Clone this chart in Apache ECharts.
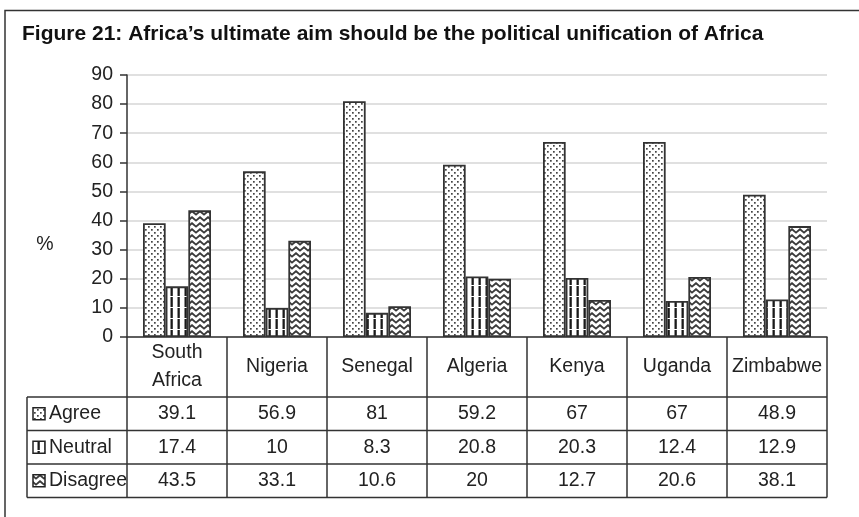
<!DOCTYPE html>
<html>
<head>
<meta charset="utf-8">
<script src="https://cdn.jsdelivr.net/npm/echarts@6/dist/echarts.min.js"></script>
<style>
  html, body { margin: 0; padding: 0; background: #fff; }
  #chart { width: 859px; height: 517px; }
</style>
</head>
<body>
<div id="chart"></div>
<script>
// Survey responses by country (%)
const categories = ['South\nAfrica', 'Nigeria', 'Senegal', 'Algeria', 'Kenya', 'Uganda', 'Zimbabwe'];
const seriesNames = ['Agree', 'Neutral', 'Disagree'];
const agree = [39.1, 56.9, 81, 59.2, 67, 67, 48.9];
const neutral = [17.4, 10, 8.3, 20.8, 20.3, 12.4, 12.9];
const disagree = [43.5, 33.1, 10.6, 20, 12.7, 20.6, 38.1];
const yMin = 0, yMax = 90, yStep = 10;

const titleText = 'Figure 21: Africa\u2019s ultimate aim should be the political unification of Africa';
const TEXT = '#222';
const LINE = '#333';
const FONT = 'Liberation Sans, Arial, sans-serif';
const FS = 19.5;

// --- fill patterns -------------------------------------------------------
function makeTile(w, h, draw) {
  const c = document.createElement('canvas');
  c.width = w; c.height = h;
  const ctx = c.getContext('2d');
  ctx.fillStyle = '#fff';
  ctx.fillRect(0, 0, w, h);
  draw(ctx);
  return { image: c, repeat: 'repeat' };
}
const dotFill = makeTile(6, 6, ctx => {
  ctx.fillStyle = '#444';
  ctx.fillRect(1, 1, 1.7, 1.7);
  ctx.fillRect(4, 4, 1.7, 1.7);
});
const stripeFill = makeTile(7, 11, ctx => {
  ctx.fillStyle = '#1a1a1a';
  ctx.fillRect(2.5, 0, 2.3, 10);
});
const chevronFill = makeTile(8, 6, ctx => {
  ctx.strokeStyle = '#3a3a3a';
  ctx.lineWidth = 1.8;
  ctx.beginPath();
  ctx.moveTo(-0.5, 0.8);
  ctx.lineTo(4, 4.6);
  ctx.lineTo(8.5, 0.8);
  ctx.stroke();
});
const fills = [dotFill, stripeFill, chevronFill];
const seriesData = [agree, neutral, disagree];

const chart = echarts.init(document.getElementById('chart'), null, { renderer: 'canvas' });

const option = {
  animation: false,
  backgroundColor: '#fff',
  grid: { left: 127, right: 32, top: 75, bottom: 180 },
  xAxis: {
    type: 'category',
    data: categories,
    axisLine: { lineStyle: { color: LINE, width: 1.5 } },
    axisTick: { show: true, length: 60, interval: 0, lineStyle: { color: LINE, width: 1.5 } },
    axisLabel: {
      interval: 0, margin: 30, verticalAlign: 'middle',
      color: TEXT, fontFamily: FONT, fontSize: FS, lineHeight: 28
    },
    splitLine: { show: false }
  },
  yAxis: {
    type: 'value',
    min: yMin, max: yMax, interval: yStep,
    axisLine: { show: true, lineStyle: { color: LINE, width: 1.5 } },
    axisTick: { show: true, length: 7, lineStyle: { color: LINE, width: 1.5 } },
    axisLabel: { margin: 14, color: TEXT, fontFamily: FONT, fontSize: FS },
    splitLine: { lineStyle: { color: '#d6d6d6', width: 1.5 } }
  },
  series: seriesNames.map((name, i) => ({
    name,
    type: 'bar',
    data: seriesData[i],
    barGap: '0%',
    barCategoryGap: '32%',
    itemStyle: { color: fills[i], borderColor: LINE, borderWidth: 1.8 }
  }))
};
chart.setOption(option);

// --- data table under the plot, laid out from the axis scale ---------------
function buildTable() {
  const xs = categories.map((_, i) => chart.convertToPixel({ xAxisIndex: 0 }, i));
  const band = xs[1] - xs[0];
  const y0 = chart.convertToPixel({ yAxisIndex: 0 }, 0);
  const headerBottom = y0 + 60;
  const rowH = 33.5;
  const plotLeft = xs[0] - band / 2;
  const plotRight = xs[xs.length - 1] + band / 2;
  const tableLeft = plotLeft - 100;
  const els = [];

  // outer frame of the figure
  els.push({ type: 'rect', shape: { x: 5, y: 10.5, width: 1000, height: 1000 },
    style: { fill: null, stroke: LINE, lineWidth: 1.5 }, silent: true });
  // title
  els.push({ type: 'text', left: 22, top: 24,
    style: { text: titleText, fill: '#111', font: 'bold 21px "Liberation Sans", Arial, sans-serif' } });
  // unit label
  els.push({ type: 'text', x: 45, y: 245,
    style: { text: '%', fill: TEXT, font: FS + 'px ' + FONT, align: 'center', verticalAlign: 'middle' } });

  const bottom = headerBottom + rowH * seriesNames.length;
  // horizontal rules
  for (let r = 0; r <= seriesNames.length; r++) {
    const y = headerBottom + r * rowH;
    els.push({ type: 'line', shape: { x1: tableLeft, y1: y, x2: plotRight, y2: y },
      style: { stroke: LINE, lineWidth: 1.5 } });
  }
  // vertical rules
  const vx = [tableLeft];
  for (let i = 0; i <= xs.length; i++) vx.push(plotLeft + i * band);
  vx.forEach(x => els.push({ type: 'line', shape: { x1: x, y1: headerBottom, x2: x, y2: bottom },
    style: { stroke: LINE, lineWidth: 1.5 } }));

  // rows: legend key, name, values
  seriesNames.forEach((name, r) => {
    const cy = headerBottom + r * rowH + rowH / 2;
    els.push({ type: 'rect', shape: { x: tableLeft + 6, y: cy - 6, width: 12, height: 12 },
      style: { fill: fills[r], stroke: '#222', lineWidth: 1.5 } });
    els.push({ type: 'text', x: tableLeft + 22, y: cy,
      style: { text: name, fill: TEXT, font: FS + 'px ' + FONT, verticalAlign: 'middle' } });
    seriesData[r].forEach((v, i) => {
      els.push({ type: 'text', x: xs[i], y: cy,
        style: { text: String(v), fill: TEXT, font: FS + 'px ' + FONT, align: 'center', verticalAlign: 'middle' } });
    });
  });
  chart.setOption({ graphic: { elements: els } });
}
buildTable();
</script>
</body>
</html>
